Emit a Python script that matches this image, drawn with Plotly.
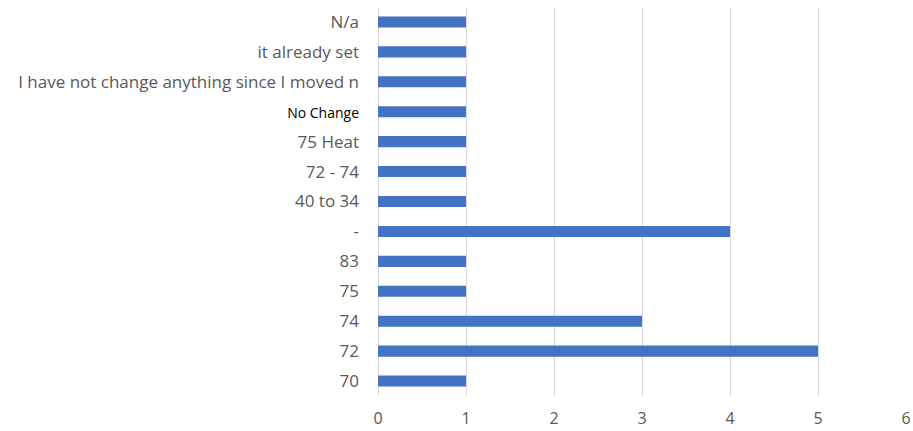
import plotly.graph_objects as go

categories = ["70", "72", "74", "75", "83", "-", "40 to 34", "72 - 74", "75 Heat",
              "No Change", "I have not change anything since I moved n",
              "it already set", "N/a"]
values = [1, 5, 3, 1, 1, 4, 1, 1, 1, 1, 1, 1, 1]
x_ticks = [0, 1, 2, 3, 4, 5, 6]

ticktext = []
for c in categories:
    if c == "No Change":
        ticktext.append("<span style='color:#000000;font-size:14px'>No Change</span>")
    else:
        ticktext.append(c)

fig = go.Figure(go.Bar(
    x=values, y=categories, orientation="h",
    marker=dict(color="#4472C4", line=dict(width=0)),
))

fig.update_layout(
    width=913, height=431,
    margin=dict(l=378, r=7, t=7, b=35),
    paper_bgcolor="white", plot_bgcolor="white",
    bargap=0.63,
    showlegend=False,
    font=dict(family="Open Sans", size=17, color="#595959"),
)
fig.update_xaxes(
    range=[0, 6], tickvals=x_ticks, showgrid=True, gridcolor="#d9d9d9", gridwidth=1,
    zeroline=True, zerolinecolor="#d9d9d9", zerolinewidth=1, showline=False,
    ticks="", ticklabelstandoff=11, fixedrange=True, automargin=False,
    tickfont=dict(size=16),
)
fig.update_yaxes(
    type="category", categoryorder="array", categoryarray=categories,
    tickvals=categories, ticktext=ticktext,
    showgrid=False, showline=False, ticks="", ticklabelstandoff=18,
    range=[-0.5, len(categories) - 0.5], automargin=False,
)

fig.write_html("out.html")
